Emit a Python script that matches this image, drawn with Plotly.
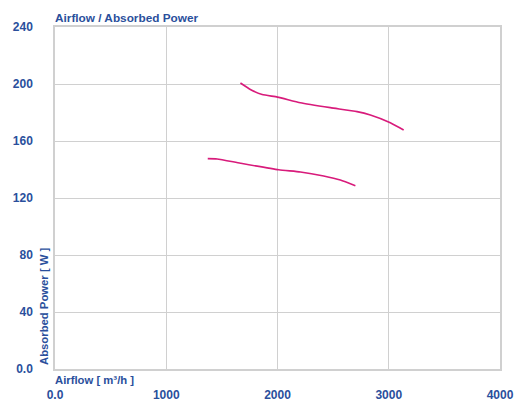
import plotly.graph_objects as go

# Data
upper_x = [1667, 1760, 1862, 2000, 2206, 2475, 2715, 2835, 3014, 3134]
upper_y = [200.7, 196.0, 192.6, 190.8, 186.9, 183.4, 180.6, 178.2, 172.8, 167.7]
lower_x = [1373, 1457, 1667, 2011, 2206, 2415, 2565, 2700]
lower_y = [147.6, 147.4, 144.4, 139.8, 138.3, 135.4, 132.6, 128.6]

x_ticks = [0, 1000, 2000, 3000, 4000]
x_ticktext = ["<b>0.0</b>", "<b>1000</b>", "<b>2000</b>", "<b>3000</b>", "<b>4000</b>"]
y_ticks = [0, 40, 80, 120, 160, 200, 240]
y_ticktext = ["<b>0.0</b>", "<b>40</b>", "<b>80</b>", "<b>120</b>", "<b>160</b>", "<b>200</b>", "<b>240</b>"]

LINE = "#d81b7b"
TEXT = "#2a4f9c"
GRID = "#d0d0d0"
FONT = "Liberation Sans, Arial, sans-serif"

fig = go.Figure()
for xs, ys in [(upper_x, upper_y), (lower_x, lower_y)]:
    fig.add_trace(go.Scatter(x=xs, y=ys, mode="lines", line=dict(color=LINE, width=1.6, shape="spline", smoothing=0.5),
                             showlegend=False, hoverinfo="skip"))

# page body has an 8px margin, so the figure is offset by 8px
fig.update_layout(
    width=517, height=395,
    margin=dict(l=47, r=25, t=19, b=34),
    paper_bgcolor="white", plot_bgcolor="white",
    font=dict(family=FONT, color=TEXT, size=12),
    xaxis=dict(range=[0, 4000], tickvals=x_ticks, ticktext=x_ticktext, showgrid=True, gridcolor=GRID, gridwidth=1,
               showline=True, linecolor=GRID, linewidth=1.5, mirror=True, zeroline=False, ticks="",
               automargin=False, ticklabelstandoff=14, tickfont=dict(size=12, color=TEXT, family=FONT)),
    yaxis=dict(range=[0, 240], tickvals=y_ticks, ticktext=y_ticktext, showgrid=True, gridcolor=GRID, gridwidth=1,
               showline=True, linecolor=GRID, linewidth=1.5, mirror=True, zeroline=False, ticks="",
               automargin=False, ticklabelstandoff=18, tickfont=dict(size=12, color=TEXT, family=FONT)),
    annotations=[
        dict(text="<b>Airflow / Absorbed Power</b>", xref="paper", yref="paper", x=0, y=1, xanchor="left", yanchor="bottom",
             xshift=-2, yshift=0, showarrow=False, font=dict(size=11.8, color=TEXT, family=FONT)),
        dict(text="<b>Airflow [ m³/h ]</b>", xref="paper", yref="paper", x=0, y=0, xanchor="left", yanchor="top",
             xshift=-2, yshift=-3, showarrow=False, font=dict(size=11.3, color=TEXT, family=FONT)),
        dict(text="<b>Absorbed Power [ W ]</b>", xref="paper", yref="paper", x=0, y=0, xanchor="right", yanchor="bottom",
             textangle=-90, xshift=-3, yshift=2, showarrow=False, font=dict(size=11.3, color=TEXT, family=FONT)),
    ],
)

fig.write_html("out.html")
